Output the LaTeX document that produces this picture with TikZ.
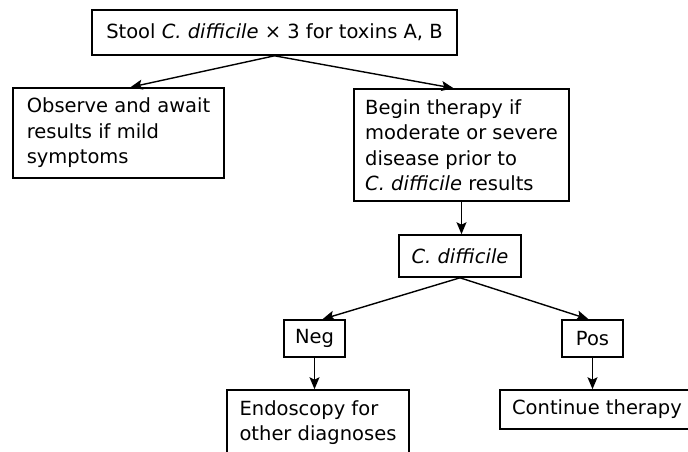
\documentclass[tikz,border=0pt]{standalone}
\usepackage{fontspec}
\setmainfont{DejaVu Sans}
\usetikzlibrary{arrows.meta}
\begin{document}
\begin{tikzpicture}[x=1pt,y=-1pt,
  box/.style={draw, line width=1.6pt, inner sep=0pt, align=left, font=\fontsize{19.5}{25.5}\selectfont},
  arr/.style={line width=1.4pt, -{Stealth[length=12pt,width=10pt,inset=2.5pt]}}]
\clip (0,0) rectangle (688,452);
\useasboundingbox (0,0) rectangle (688,452);
\fill[white] (0,0) rectangle (688,452);
\node[box, minimum width=365pt, minimum height=45pt] (top) at (274.5,32.5) {Stool \textit{C. difficile} × 3 for toxins A, B};
\node[box, minimum width=211pt, minimum height=90pt] (obs) at (118.5,133) {Observe and await\\results if mild\\symptoms};
\node[box, minimum width=215pt, minimum height=112pt] (beg) at (461.5,145) {Begin therapy if\\moderate or severe\\disease prior to\\\textit{C. difficile} results};
\node[box, minimum width=122pt, minimum height=42pt] (cd) at (460,256) {\textit{C. difficile}};
\node[box, minimum width=61pt, minimum height=37pt] (neg) at (314.5,338.5) {Neg};
\node[box, minimum width=61pt, minimum height=37pt] (pos) at (592.5,338.5) {Pos};
\node[box, minimum width=182pt, minimum height=65pt] (endo) at (318,422.5) {Endoscopy for\\other diagnoses};
\node[box, minimum width=194pt, minimum height=39pt] (cont) at (597,409.5) {Continue therapy};
\draw[arr] (top.south) -- ([xshift=12pt]obs.north);
\draw[arr] (top.south) -- ([xshift=-8pt]beg.north);
\draw[arr] (beg.south) -- (beg.south |- cd.north);
\draw[arr] (cd.south) -- ([xshift=8pt]neg.north);
\draw[arr] (cd.south) -- ([xshift=-4pt]pos.north);
\draw[arr] (neg.south) -- (neg.south |- endo.north);
\draw[arr] (pos.south) -- (pos.south |- cont.north);
\end{tikzpicture}
\end{document}
